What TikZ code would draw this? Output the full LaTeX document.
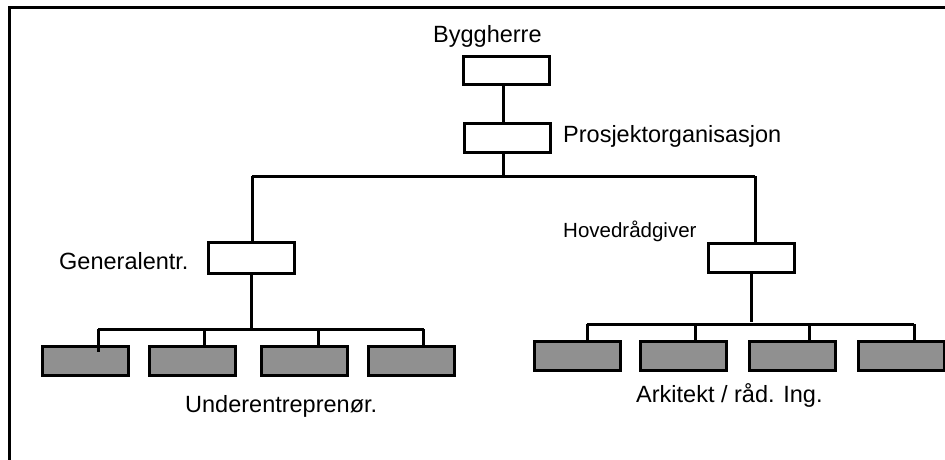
\documentclass[tikz,border=0pt]{standalone}
\usepackage{fontspec}
\setmainfont{Liberation Sans}
\definecolor{unitgray}{RGB}{144,144,144}
\begin{document}
\begin{tikzpicture}[x=1pt,y=-1pt,
  conn/.style={draw,line width=3pt},
  box/.style={draw,line width=3pt,fill=white,inner sep=0pt,minimum width=86pt,minimum height=29pt},
  unit/.style={box,fill=unitgray},
  lbl/.style={inner sep=0pt,anchor=base west,font=\fontsize{23.5}{28}\selectfont},
  smalllbl/.style={lbl,font=\fontsize{20.5}{24}\selectfont}]
\useasboundingbox (0,0) rectangle (945,459);
\clip (0,0) rectangle (945,459);
% outer frame
\draw[line width=3.2pt] (9.5,7.5) rectangle (970,490);

% boxes
\node[box,minimum height=28pt] (b1) at (506.5,70.5) {};
\node[box] (b2) at (507.5,138) {};
\node[box,minimum height=31pt] (ge) at (251.5,258) {};
\node[box] (hr) at (751.5,258) {};
\node[unit] (u1) at (85,361) {};
\node[unit] (u2) at (192.5,361) {};
\node[unit] (u3) at (304,361) {};
\node[unit] (u4) at (411,361) {};
\node[unit] (a1) at (577,356) {};
\node[unit] (a2) at (683.5,356) {};
\node[unit] (a3) at (792.5,356) {};
\node[unit] (a4) at (901.5,356) {};

% bus points
\coordinate (busL) at (252,176);
\coordinate (busR) at (755,176);
\coordinate (subL) at (98,329);
\coordinate (subR) at (424,329);
\coordinate (rsubL) at (587,324);
\coordinate (rsubR) at (914,324);

% connectors
\draw[conn] ([xshift=-3.5pt,yshift=3pt]b1.south) -- ([xshift=-4.5pt]b2.north);
\draw[conn] ([xshift=-4.5pt]b2.south) -- ([xshift=-4.5pt]b2.south |- busL);
\draw[conn] (busL) -- (busR);
\draw[conn] (busL) -- ([yshift=-1.5pt]ge.north -| busL);
\draw[conn] (busR) -- (hr.north -| busR);

\draw[conn] (ge.south) -- (ge.south |- subL);
\draw[conn] (subL) -- (subR);
\draw[conn] (subL) -- ([yshift=-7pt]u1.north -| subL);
\draw[conn] ([xshift=11.5pt]u2.north) -- ([xshift=11.5pt]u2.north |- subL);
\draw[conn] ([xshift=14pt]u3.north) -- ([xshift=14pt]u3.north |- subL);
\draw[conn] ([xshift=12pt]u4.north) -- ([xshift=12pt]u4.north |- subL);

\draw[conn] ([yshift=2pt]hr.south) -- ([yshift=2pt]hr.south |- rsubL);
\draw[conn] (rsubL) -- (rsubR);
\draw[conn] (rsubL) -- (a1.north -| rsubL);
\draw[conn] ([xshift=11.5pt]a2.north) -- ([xshift=11.5pt]a2.north |- rsubL);
\draw[conn] ([xshift=16.5pt]a3.north) -- ([xshift=16.5pt]a3.north |- rsubL);
\draw[conn] (rsubR) -- (a4.north -| rsubR);

% labels
\node[lbl] (tByg) at (433,42) {Byggherre};
\node[lbl] (tPro) at (563,142) {Prosjektorganisasjon};
\node[lbl] (tGen) at (59,269) {Generalentr.};
\node[smalllbl] (tHov) at (563,237) {Hovedrådgiver};
\node[lbl] (tUnd) at (185,412) {Underentreprenør.};
\node[lbl] (tArk) at (636,402) {Arkitekt / råd. Ing.};
\end{tikzpicture}
\end{document}
